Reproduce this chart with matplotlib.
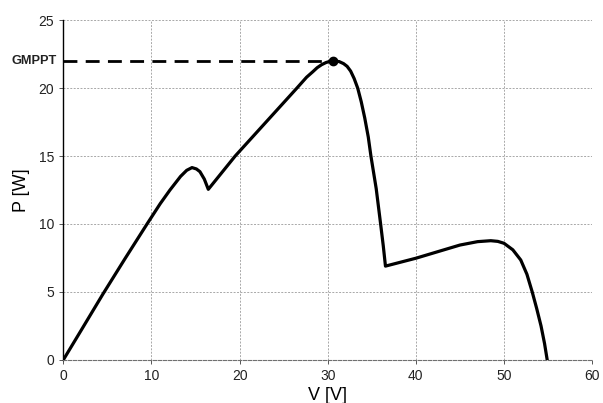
import numpy as np
import matplotlib
matplotlib.use('Agg')
import matplotlib.pyplot as plt

plt.rcParams['font.family'] = ['Liberation Sans', 'DejaVu Sans']

# P-V curve of a partially shaded PV string
V = [0, 2.0, 4.5, 7.0, 9.5, 11.0, 12.1, 13.3, 14.0, 14.6, 15.1, 15.5, 16.0, 16.45,
     19.5, 23.0, 26.5, 27.6, 28.3, 28.8, 29.3, 29.8, 30.2, 30.65, 31.3, 31.8,
     32.2, 32.6, 33.0, 33.4, 33.8, 34.2, 34.6, 34.9, 35.2, 35.5, 36.0, 36.3,
     36.55, 40.0, 45.0, 47.0, 48.5, 49.3, 50.0, 51.0, 51.9, 52.6, 53.2, 53.7,
     54.2, 54.6, 54.9]
P = [0, 2.15, 4.85, 7.45, 10.0, 11.5, 12.5, 13.5, 13.95, 14.15, 14.05, 13.85, 13.3, 12.55,
     15.0, 17.5, 20.0, 20.8, 21.2, 21.5, 21.72, 21.88, 21.96, 22.0, 21.95, 21.8,
     21.6, 21.25, 20.7, 20.0, 19.0, 17.8, 16.4, 15.0, 13.8, 12.6, 10.0, 8.4,
     6.9, 7.48, 8.45, 8.7, 8.77, 8.72, 8.58, 8.1, 7.35, 6.3, 5.0, 3.8,
     2.5, 1.2, 0]

v_mpp = 30.65
p_mpp = 22.0

fig = plt.figure(figsize=(6.03, 4.03), dpi=100)
ax = fig.add_axes([0.105, 0.107, 0.877, 0.843])

ax.plot(V, P, color='black', lw=2.3, solid_joinstyle='round', zorder=3)
ax.plot([0, v_mpp], [p_mpp, p_mpp], color='black', lw=2.0, ls=(0, (5, 3)), zorder=3)
ax.plot(v_mpp, p_mpp, 'o', color='black', ms=6, zorder=4)

ax.set_xlim(0, 60)
ax.set_ylim(0, 25)
ax.set_xticks(np.arange(0, 61, 10))
ax.set_yticks(np.arange(0, 26, 5))
ax.grid(True, color='#a8a8a8', ls=(0, (2, 1.5)), lw=0.7)

for s in ['top', 'right']:
    ax.spines[s].set_visible(False)
ax.spines['left'].set_color('black')
ax.spines['left'].set_linewidth(1.0)
ax.spines['bottom'].set_color('#707070')
ax.spines['bottom'].set_linestyle((0, (3, 1.5)))
ax.spines['bottom'].set_linewidth(0.8)

ax.tick_params(axis='both', labelsize=10, length=3, width=0.7, color='#555555',
               labelcolor='#222222', direction='out')

ax.text(-0.7, p_mpp, 'GMPPT', ha='right', va='center', fontsize=9.2,
        fontweight='bold', color='#222222')

ax.set_xlabel('V [V]', fontsize=13, labelpad=3)
ax.set_ylabel('P [W]', fontsize=13, labelpad=6)

fig.savefig('out.png', dpi=100)
